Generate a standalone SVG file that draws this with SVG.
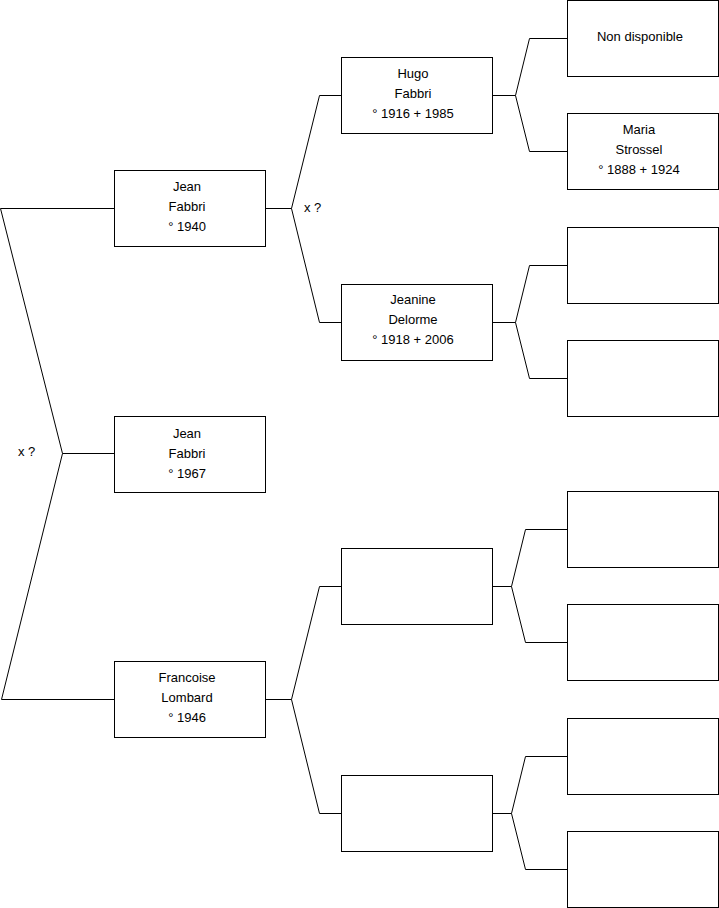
<svg xmlns="http://www.w3.org/2000/svg" width="719" height="908" viewBox="0 0 719 908">
<style>
.box{fill:#fff;stroke:#000;stroke-width:1}
.c{fill:none;stroke:#000;stroke-width:1}
text{font-family:"Liberation Sans",Arial,sans-serif;font-size:13px;fill:#000}
.t{text-anchor:middle}
</style>
<rect width="719" height="908" fill="#fff"/>
<g id="connectors">
<polyline class="c" points="114,208.5 0.5,208.5 62.5,453.5 1.5,699.5 114,699.5"/>
<line class="c" x1="62.5" y1="453.5" x2="114" y2="453.5"/>
<polyline class="c" points="341,95.5 319.5,95.5 291.5,208.5 319.5,322.5 341,322.5"/>
<line class="c" x1="265" y1="208.5" x2="291.5" y2="208.5"/>
<polyline class="c" points="341,586.5 319.5,586.5 291.5,699.5 319.5,813.5 341,813.5"/>
<line class="c" x1="265" y1="699.5" x2="291.5" y2="699.5"/>
<polyline class="c" points="567,38.5 529.5,38.5 515.5,95.5 529.5,151.5 567,151.5"/>
<line class="c" x1="492" y1="95.5" x2="515.5" y2="95.5"/>
<polyline class="c" points="567,265.5 529.5,265.5 515.5,322.5 529.5,378.5 567,378.5"/>
<line class="c" x1="492" y1="322.5" x2="515.5" y2="322.5"/>
<polyline class="c" points="567,529.5 525.5,529.5 511.5,586.5 525.5,642.5 567,642.5"/>
<line class="c" x1="492" y1="586.5" x2="511.5" y2="586.5"/>
<polyline class="c" points="567,756.5 525.5,756.5 511.5,813.5 525.5,869.5 567,869.5"/>
<line class="c" x1="492" y1="813.5" x2="511.5" y2="813.5"/>
<text x="18" y="456">x ?</text>
<text x="304" y="212">x ?</text>
</g>
<g id="jean1940"><rect class="box" x="114.5" y="170.5" width="151" height="76"/>
<text class="t" x="187" y="191">Jean</text><text class="t" x="187" y="211">Fabbri</text><text class="t" x="187" y="231">° 1940</text></g>
<g id="jean1967"><rect class="box" x="114.5" y="416.5" width="151" height="76"/>
<text class="t" x="187" y="438">Jean</text><text class="t" x="187" y="458">Fabbri</text><text class="t" x="187" y="478">° 1967</text></g>
<g id="francoise"><rect class="box" x="114.5" y="661.5" width="151" height="76"/>
<text class="t" x="187" y="682">Francoise</text><text class="t" x="187" y="702">Lombard</text><text class="t" x="187" y="722">° 1946</text></g>
<g id="hugo"><rect class="box" x="341.5" y="57.5" width="151" height="76"/>
<text class="t" x="413" y="78">Hugo</text><text class="t" x="413" y="98">Fabbri</text><text class="t" x="413" y="118">° 1916 + 1985</text></g>
<g id="jeanine"><rect class="box" x="341.5" y="284.5" width="151" height="76"/>
<text class="t" x="413" y="304">Jeanine</text><text class="t" x="413" y="324">Delorme</text><text class="t" x="413" y="344">° 1918 + 2006</text></g>
<g id="gp3"><rect class="box" x="341.5" y="548.5" width="151" height="76"/></g>
<g id="gp4"><rect class="box" x="341.5" y="775.5" width="151" height="76"/></g>
<g id="ggp1"><rect class="box" x="567.5" y="0.5" width="151" height="76"/>
<text class="t" x="640" y="41">Non disponible</text></g>
<g id="ggp2"><rect class="box" x="567.5" y="113.5" width="151" height="76"/>
<text class="t" x="639" y="134">Maria</text><text class="t" x="639" y="154">Strossel</text><text class="t" x="639" y="174">° 1888 + 1924</text></g>
<g id="ggp3"><rect class="box" x="567.5" y="227.5" width="151" height="76"/></g>
<g id="ggp4"><rect class="box" x="567.5" y="340.5" width="151" height="76"/></g>
<g id="ggp5"><rect class="box" x="567.5" y="491.5" width="151" height="76"/></g>
<g id="ggp6"><rect class="box" x="567.5" y="604.5" width="151" height="76"/></g>
<g id="ggp7"><rect class="box" x="567.5" y="718.5" width="151" height="76"/></g>
<g id="ggp8"><rect class="box" x="567.5" y="831.5" width="151" height="76"/></g>
</svg>
